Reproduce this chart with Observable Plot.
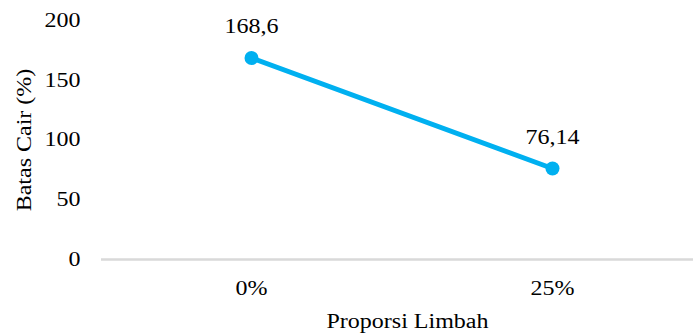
<!DOCTYPE html>
<html>
<head>
<meta charset="utf-8">
<script src="https://cdn.jsdelivr.net/npm/d3@7"></script>
<script src="https://cdn.jsdelivr.net/npm/@observablehq/plot@0.6"></script>
<style>
  html, body { margin: 0; padding: 0; background: #fff; }
  #chart svg { display: block; }
</style>
</head>
<body>
<div id="chart"></div>
<script>
// Liquid limit against waste proportion
const proportions = ["0%", "25%"];
const liquidLimit = [168.6, 76.14];
const valueLabels = ["168,6", "76,14"];
const yTicks = [0, 50, 100, 150, 200];
const yTitle = "Batas Cair (%)";
const xTitle = "Proporsi Limbah";

const rows = proportions.map((p, i) => ({ p, v: liquidLimit[i], label: valueLabels[i] }));
const blue = "#00b0f0";

const chart = Plot.plot({
  width: 693,
  height: 335,
  marginLeft: 101,
  marginRight: 0,
  marginTop: 20,
  marginBottom: 76,
  style: { fontFamily: "'Liberation Serif', 'Times New Roman', serif", fontSize: "20px", color: "#000", background: "#fff" },
  x: { type: "point", domain: proportions, range: [251, 552], padding: 0 },
  y: { domain: [0, 200] },
  marks: [
    Plot.ruleY([0], { stroke: "#d9d9d9", strokeWidth: 2.5 }),
    Plot.axisY({ ticks: yTicks, tickSize: 0, tickPadding: 21, label: null, fontSize: 20 }),
    Plot.axisX({ tickSize: 0, tickPadding: 21, label: null, fontSize: 20 }),
    Plot.line(rows, { x: "p", y: "v", stroke: blue, strokeWidth: 5 }),
    Plot.dot(rows, { x: "p", y: "v", r: 7, fill: blue }),
    Plot.text(rows, { x: "p", y: "v", text: "label", dy: -31, fontSize: 20, fill: "#000" }),
    Plot.text([yTitle], { frameAnchor: "left", dx: -77, rotate: -90, textAnchor: "middle", lineAnchor: "middle", fontSize: 20, fill: "#000" }),
    Plot.text([xTitle], { frameAnchor: "bottom", dx: 10, dy: 62, textAnchor: "middle", lineAnchor: "middle", fontSize: 20, fill: "#000" })
  ]
});

document.getElementById("chart").appendChild(chart);

// Widen every label a little along its reading direction
chart.querySelectorAll("text").forEach((t) => {
  const len = t.getComputedTextLength();
  if (len > 0) {
    t.setAttribute("textLength", (len * 1.2).toFixed(1));
    t.setAttribute("lengthAdjust", "spacingAndGlyphs");
  }
});
</script>
</body>
</html>
